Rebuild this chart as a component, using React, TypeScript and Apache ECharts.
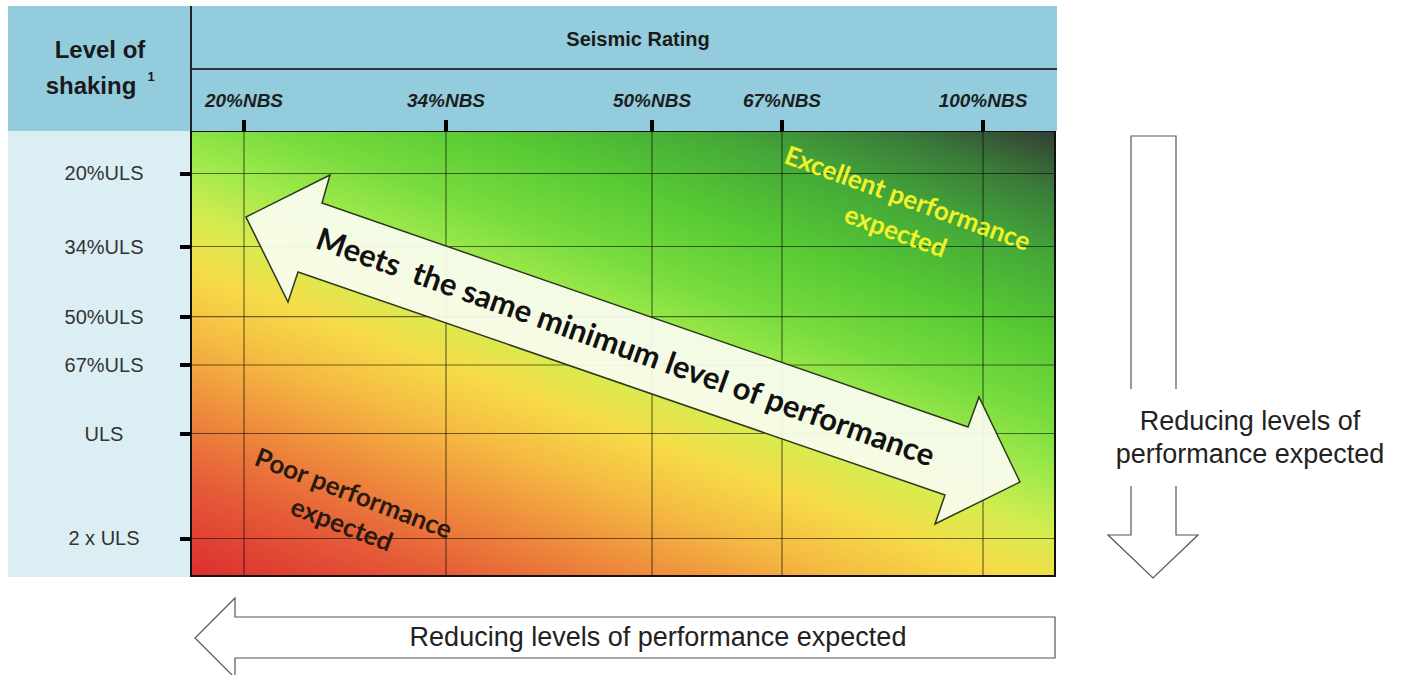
import React, { useEffect, useRef } from "react";
import * as echarts from "echarts";

// Tick labels and their (schematic) positions along each axis, in % of the plot
const xLabels = ["20%NBS", "34%NBS", "50%NBS", "67%NBS", "100%NBS"];
const xPos = [6.13, 29.51, 53.36, 68.4, 91.67];
const yLabels = ["20%ULS", "34%ULS", "50%ULS", "67%ULS", "ULS", "2 x ULS"];
const yPos = [9.55, 25.96, 41.73, 52.58, 67.98, 91.57];

const headerTitle = "Seismic Rating";
const sideTitle1 = "Level of";
const sideTitle2 = "shaking";
const arrowText = "Meets  the same minimum level of performance";
const goodText = "Excellent performance\nexpected";
const poorText = "Poor performance\nexpected";
const reduceText = "Reducing levels of performance expected";
const reduceText2 = "Reducing levels of\nperformance expected";

const ARIAL = '"Liberation Sans", Arial, sans-serif';
const CALIBRI = 'Lato, "Liberation Sans", sans-serif';

function nearestLabel(v: number, pos: number[], labels: string[]) {
  let best = 0;
  for (let i = 1; i < pos.length; i++) {
    if (Math.abs(pos[i] - v) < Math.abs(pos[best] - v)) best = i;
  }
  return labels[best];
}

function txt(x: number, y: number, text: string, size: number, opts: any = {}) {
  return {
    type: "text",
    x,
    y,
    z: opts.z ?? 20,
    rotation: opts.rotation ?? 0,
    style: {
      text,
      fontSize: size,
      fontWeight: opts.weight ?? "normal",
      fontStyle: opts.style ?? "normal",
      fontFamily: opts.family ?? ARIAL,
      fill: opts.fill ?? "#222",
      align: "center",
      textAlign: "center",
      verticalAlign: "middle",
      textVerticalAlign: "middle",
      lineHeight: opts.lineHeight,
    },
  };
}

export default function App() {
  const ref = useRef<HTMLDivElement>(null);

  useEffect(() => {
    if (!ref.current) return;
    const chart = echarts.init(ref.current, undefined, { renderer: "svg" });

    const gridLineData = [
      ...xPos.map((v) => [v, 0, 0]),
      ...yPos.map((v) => [0, v, 1]),
    ];

    const option: any = {
      animation: false,
      backgroundColor: "#ffffff",
      grid: {
        left: 191,
        top: 131,
        width: 864,
        height: 445,
        show: true,
        borderColor: "#111",
        borderWidth: 2,
        backgroundColor: {
          type: "linear",
          x: 191,
          y: 576,
          x2: 440,
          y2: -97,
          global: true,
          colorStops: [
            { offset: 0.0, color: "#DC2E2E" },
            { offset: 0.12, color: "#E55A38" },
            { offset: 0.22, color: "#EE8A3C" },
            { offset: 0.32, color: "#F5BC42" },
            { offset: 0.4, color: "#F6DC48" },
            { offset: 0.47, color: "#D6EC50" },
            { offset: 0.54, color: "#A2EA4C" },
            { offset: 0.62, color: "#78DC3E" },
            { offset: 0.72, color: "#58CA34" },
            { offset: 0.83, color: "#44A838" },
            { offset: 0.92, color: "#3A7A3A" },
            { offset: 1.0, color: "#333C33" },
          ],
        },
      },
      xAxis: {
        type: "value",
        position: "top",
        min: 0,
        max: 100,
        z: 5,
        axisLine: { show: false },
        splitLine: { show: false },
        axisTick: {
          show: true,
          customValues: xPos,
          length: 11,
          inside: false,
          lineStyle: { color: "#000", width: 4 },
        },
        axisLabel: {
          show: true,
          customValues: xPos,
          formatter: (v: number) => nearestLabel(v, xPos, xLabels),
          fontFamily: ARIAL,
          fontSize: 19,
          fontWeight: "bold",
          fontStyle: "italic",
          color: "#1e1e1e",
          margin: 31,
          verticalAlign: "middle",
        },
      },
      yAxis: {
        type: "value",
        inverse: true,
        min: 0,
        max: 100,
        z: 5,
        axisLine: { show: false },
        splitLine: { show: false },
        axisTick: {
          show: true,
          customValues: yPos,
          length: 11,
          inside: false,
          lineStyle: { color: "#000", width: 4 },
        },
        axisLabel: {
          show: true,
          customValues: yPos,
          formatter: (v: number) => nearestLabel(v, yPos, yLabels),
          fontFamily: ARIAL,
          fontSize: 20,
          color: "#333",
          align: "center",
          margin: 87,
        },
      },
      series: [
        {
          type: "custom",
          coordinateSystem: "cartesian2d",
          silent: true,
          encode: { x: 0, y: 1 },
          data: gridLineData,
          renderItem: (params: any, api: any) => {
            const kind = api.value(2);
            let p1, p2;
            if (kind === 0) {
              p1 = api.coord([api.value(0), 0]);
              p2 = api.coord([api.value(0), 100]);
            } else {
              p1 = api.coord([0, api.value(1)]);
              p2 = api.coord([100, api.value(1)]);
            }
            return {
              type: "line",
              shape: { x1: p1[0], y1: p1[1], x2: p2[0], y2: p2[1] },
              style: { stroke: "rgba(0,0,0,0.55)", lineWidth: 1.2 },
            };
          },
        },
      ],
      graphic: {
        elements: [
          // header backgrounds
          {
            type: "rect",
            z: 1,
            shape: { x: 8, y: 6, width: 1049, height: 125 },
            style: { fill: "#93CDDD" },
          },
          {
            type: "rect",
            z: 1,
            shape: { x: 8, y: 131, width: 182, height: 446 },
            style: { fill: "#DBEEF4" },
          },
          {
            type: "line",
            z: 2,
            shape: { x1: 191, y1: 6, x2: 191, y2: 131 },
            style: { stroke: "#222", lineWidth: 2 },
          },
          {
            type: "line",
            z: 2,
            shape: { x1: 191, y1: 69, x2: 1057, y2: 69 },
            style: { stroke: "#333", lineWidth: 2 },
          },
          txt(100, 49, sideTitle1, 24, { weight: "bold", fill: "#1a1a1a" }),
          txt(91, 85, sideTitle2, 24, { weight: "bold", fill: "#1a1a1a" }),
          txt(151, 76, "1", 13, { weight: "bold", fill: "#1a1a1a" }),
          txt(638, 39, headerTitle, 20, { weight: "bold", fill: "#1a1a1a" }),
          // double arrow
          {
            type: "polygon",
            z: 10,
            shape: {
              points: [
                [246, 217],
                [330, 175],
                [322, 203],
                [968, 427],
                [979, 397],
                [1020, 482],
                [935, 524],
                [945, 495],
                [298, 272],
                [288, 302],
              ],
            },
            style: {
              fill: "rgba(250,252,240,0.93)",
              stroke: "#2a3a1a",
              lineWidth: 1.5,
            },
          },
          txt(626, 346, arrowText, 31, {
            weight: "bold",
            family: CALIBRI,
            fill: "#111",
            rotation: (-19.6 * Math.PI) / 180,
          }),
          txt(902, 214, goodText, 26, {
            weight: "bold",
            family: CALIBRI,
            fill: "#F2F22A",
            rotation: (-20 * Math.PI) / 180,
            lineHeight: 35,
          }),
          txt(348, 508, poorText, 26, {
            weight: "bold",
            family: CALIBRI,
            fill: "#2a1a12",
            rotation: (-21 * Math.PI) / 180,
            lineHeight: 33,
          }),
          // right down arrow
          {
            type: "polygon",
            z: 3,
            shape: {
              points: [
                [1131, 136],
                [1176, 136],
                [1176, 535],
                [1198, 535],
                [1153, 578],
                [1108, 535],
                [1131, 535],
              ],
            },
            style: { fill: "#fff", stroke: "#555", lineWidth: 1.2 },
          },
          {
            type: "rect",
            z: 4,
            shape: { x: 1100, y: 389, width: 300, height: 97 },
            style: { fill: "#fff" },
          },
          txt(1250, 437, reduceText2, 27, { fill: "#222", lineHeight: 33 }),
          // bottom left arrow
          {
            type: "polygon",
            z: 3,
            shape: {
              points: [
                [1055, 617],
                [235, 617],
                [235, 598],
                [195, 638],
                [235, 678],
                [235, 658],
                [1055, 658],
              ],
            },
            style: { fill: "#fff", stroke: "#555", lineWidth: 1.2 },
          },
          txt(658, 637, reduceText, 27, { fill: "#222" }),
        ],
      },
    };

    chart.setOption(option);
    return () => chart.dispose();
  }, []);

  return (
    <div
      ref={ref}
      style={{
        position: "fixed",
        left: 0,
        top: 0,
        width: 1404,
        height: 675,
        background: "#fff",
      }}
    />
  );
}
